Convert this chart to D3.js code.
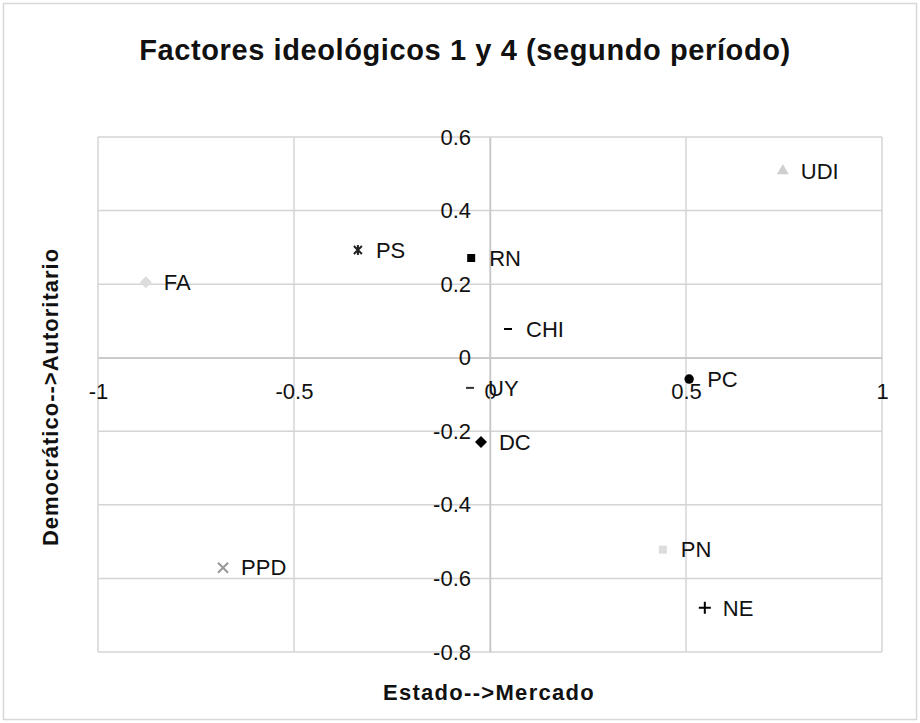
<!DOCTYPE html>
<html>
<head>
<meta charset="utf-8">
<script src="https://cdn.jsdelivr.net/npm/d3@7"></script>
<style>
  body { margin: 0; background: #fff; }
  text { font-family: "Liberation Sans", Arial, sans-serif; fill: #111; }
</style>
</head>
<body>
<script>
// data
var parties = ["FA", "PS", "RN", "UDI", "CHI", "UY", "DC", "PC", "PPD", "PN", "NE"];
var factor1 = [-0.878, -0.337, -0.048, 0.747, 0.046, -0.051, -0.023, 0.508, -0.681, 0.441, 0.548];
var factor4 = [0.205, 0.293, 0.271, 0.508, 0.078, -0.082, -0.229, -0.058, -0.571, -0.522, -0.680];

var xTicks = [-1, -0.5, 0, 0.5, 1];
var yTicks = [0.6, 0.4, 0.2, 0, -0.2, -0.4, -0.6, -0.8];

// marker style per party
var markerStyle = {
  FA:  {shape: "diamond", color: "#dcdcdc"},
  PS:  {shape: "asterisk", color: "#222"},
  RN:  {shape: "square", color: "#000"},
  UDI: {shape: "triangle", color: "#cfcfcf"},
  CHI: {shape: "dash", color: "#000"},
  UY:  {shape: "dash", color: "#333"},
  DC:  {shape: "diamond", color: "#000"},
  PC:  {shape: "circle", color: "#000"},
  PPD: {shape: "x", color: "#999"},
  PN:  {shape: "square", color: "#dcdcdc"},
  NE:  {shape: "plus", color: "#000"}
};

var width = 920;
var height = 723;

var svg = d3.select("body")
  .append("svg")
  .attr("width", width)
  .attr("height", height);

// outer chart frame
svg.append("rect")
  .attr("x", 3.5).attr("y", 3.5)
  .attr("width", width - 7).attr("height", height - 7)
  .style("fill", "#fff")
  .style("stroke", "#d8d8d8")
  .style("stroke-width", 1.5);

var x = d3.scaleLinear().domain([-1, 1]).range([98, 882]);
var y = d3.scaleLinear().domain([-0.8, 0.6]).range([652, 137]);

var gridColor = "#d4d4d4";

// gridlines
svg.append("g").selectAll("line")
  .data(yTicks)
  .join("line")
  .attr("x1", x(-1)).attr("x2", x(1))
  .attr("y1", d => y(d)).attr("y2", d => y(d))
  .style("stroke", gridColor).style("stroke-width", 1.5);

svg.append("g").selectAll("line")
  .data(xTicks)
  .join("line")
  .attr("x1", d => x(d)).attr("x2", d => x(d))
  .attr("y1", y(0.6)).attr("y2", y(-0.8))
  .style("stroke", gridColor).style("stroke-width", 1.5);

// axes crossing at zero, plain hyphen minus like the original
var xAxis = d3.axisBottom(x).tickValues(xTicks).tickSize(0).tickPadding(26)
  .tickFormat(d => String(d));
var yAxis = d3.axisLeft(y).tickValues(yTicks).tickSize(0).tickPadding(19)
  .tickFormat(d => String(d));

var gx = svg.append("g")
  .attr("transform", "translate(0," + y(0) + ")")
  .call(xAxis);
var gy = svg.append("g")
  .attr("transform", "translate(" + x(0) + ",0)")
  .call(yAxis);

[gx, gy].forEach(function(g) {
  g.select(".domain").style("stroke", "#c8c8c8").style("stroke-width", 1.5);
  g.selectAll("text")
    .style("font-size", "22px")
    .style("font-family", "Liberation Sans, Arial, sans-serif")
    .style("fill", "#111");
});

// marker shapes
function markerPath(shape) {
  if (shape == "diamond") return "M0,-6L6,0L0,6L-6,0Z";
  if (shape == "square") return d3.symbol(d3.symbolSquare, 64)();
  if (shape == "triangle") return d3.symbol(d3.symbolTriangle, 60)();
  if (shape == "circle") return d3.symbol(d3.symbolCircle, 70)();
  if (shape == "dash") return "M-4,0H4";
  if (shape == "plus") return "M-6,0H6M0,-6V6";
  if (shape == "x") return "M-5,-5L5,5M-5,5L5,-5";
  if (shape == "asterisk") return "M-4,-4L4,4M-4,4L4,-4M0,-5V5";
  return "";
}

var isStroked = {dash: true, plus: true, x: true, asterisk: true};

var pts = svg.append("g").selectAll("g")
  .data(parties)
  .join("g")
  .attr("transform", (d, i) => "translate(" + x(factor1[i]) + "," + y(factor4[i]) + ")");

pts.append("path")
  .attr("d", d => markerPath(markerStyle[d].shape))
  .style("fill", d => isStroked[markerStyle[d].shape] ? "none" : markerStyle[d].color)
  .style("stroke", d => isStroked[markerStyle[d].shape] ? markerStyle[d].color : "none")
  .style("stroke-width", 2);

pts.append("text")
  .attr("x", 18)
  .attr("dy", "0.35em")
  .style("font-size", "22px")
  .text(d => d);

// title and axis titles
svg.append("text")
  .attr("x", 465)
  .attr("y", 60)
  .attr("text-anchor", "middle")
  .style("font-size", "29px")
  .style("font-weight", "700")
  .style("letter-spacing", "0.6px")
  .text("Factores ideológicos 1 y 4 (segundo período)");

svg.append("text")
  .attr("x", 489)
  .attr("y", 700)
  .attr("text-anchor", "middle")
  .style("font-size", "22px")
  .style("font-weight", "700")
  .style("letter-spacing", "1.3px")
  .text("Estado-->Mercado");

svg.append("text")
  .attr("transform", "translate(58," + 397 + ") rotate(-90)")
  .attr("text-anchor", "middle")
  .style("font-size", "22px")
  .style("font-weight", "700")
  .style("letter-spacing", "1px")
  .text("Democrático-->Autoritario");
</script>
</body>
</html>
